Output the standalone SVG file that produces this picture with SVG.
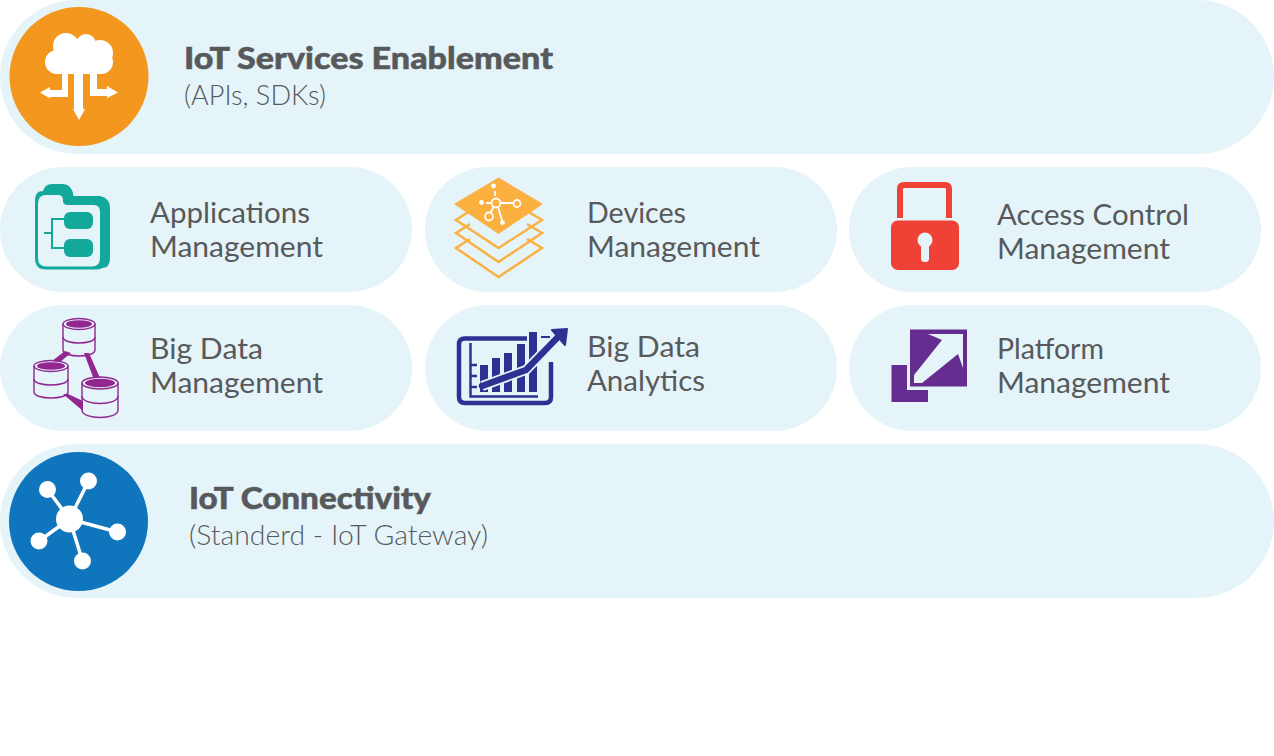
<svg xmlns="http://www.w3.org/2000/svg" width="1274" height="756" viewBox="0 0 1274 756">
<style>
.pill{fill:#e4f4f9}
text{font-family:"Lato","Liberation Sans",sans-serif;fill:#58595b}
.t{font-size:29px}
.h{font-size:31px;font-weight:900;stroke:#58595b;stroke-width:.5}
.s{font-size:27px;font-weight:300}
.w{fill:#fff;stroke:none}
.wl{stroke:#fff;fill:none}
.db{fill:none;stroke:#92278f;stroke-width:1.4}
</style>
<rect width="1274" height="756" fill="#fff"/>
<g id="connectors"></g>
<g id="iot-services">
<rect class="pill" x="0" y="0" width="1274" height="154" rx="77"/>
<circle cx="79" cy="76.500" r="69.500" fill="#f4971f"/>
<g class="w">
<circle cx="66" cy="46" r="13"/><circle cx="86" cy="44" r="10"/><circle cx="100" cy="53" r="13"/><circle cx="57" cy="62" r="12"/><circle cx="101" cy="62" r="12"/>
<rect x="56" y="42" width="46" height="32"/>
<path d="M74 74H83V109H85L79 120L73 109H74Z"/>
<path d="M62 74H68V97H50V98.500L40 92.500L50 87V90H62Z"/>
<path d="M90 74H97V89H107V86L118 92.500L107 98V96H90Z"/>
</g>
<text class="h" x="184" y="69" textLength="369" lengthAdjust="spacingAndGlyphs">IoT Services Enablement</text>
<text class="s" x="184" y="105" textLength="142" lengthAdjust="spacingAndGlyphs">(APIs, SDKs)</text>
</g>
<g id="applications-management">
<rect class="pill" x="0" y="167" width="412" height="125" rx="62.500"/>
<path d="M35 200Q35 191 43 191Q45 184 52 184H62Q72 184 73.500 196H100Q110 198 110 208V258Q110 268 102 268Q101 269.500 92 269.500H46Q35 269.500 35 258Z" fill="#12a89a"/>
<path d="M38 204Q38 195 46 195H58Q63 195 63 200V201Q63 205 68 205H94Q100 205 100 212V258Q100 266.500 92 266.500H46Q38 266.500 38 258Z" fill="#e4f4f9"/>
<rect x="64" y="212" width="29" height="17" rx="6" fill="#12a89a"/>
<rect x="64" y="239" width="29" height="18" rx="6" fill="#12a89a"/>
<path d="M64 219H52V248H64M44 233H52" fill="none" stroke="#12a89a" stroke-width="2"/>
<text class="t" x="150" y="223" textLength="160" lengthAdjust="spacingAndGlyphs">Applications</text>
<text class="t" x="150" y="257" textLength="173" lengthAdjust="spacingAndGlyphs">Management</text>
</g>
<g id="devices-management">
<rect class="pill" x="425" y="167" width="412" height="125" rx="62.500"/>
<g fill="none" stroke="#fbb040" stroke-width="2.500">
<path d="M470 211L456 220L498.500 248L542 220L527 211"/>
<path d="M470 224L456 233L498.500 262L542 233L527 224"/>
<path d="M470 239L456 248L498.500 277L542 248L527 239"/>
</g>
<path d="M498.500 177.500L543 204L498.500 234L454 204Z" fill="#fbb040"/>
<g stroke="#fff" fill="none" stroke-width="1.800">
<circle cx="496" cy="203" r="4.500"/><circle cx="517" cy="203.500" r="3.500"/><circle cx="489" cy="216.500" r="4"/>
<path d="M500.500 203H513.500M493.500 207L490.500 213M498 207L502 220M491.500 203H486M495 196V191"/>
</g>
<circle cx="493.500" cy="186" r="2.400" class="w"/><circle cx="481.500" cy="202.500" r="2.400" class="w"/><circle cx="502.500" cy="222.500" r="2.400" class="w"/>
<text class="t" x="587" y="223" textLength="99" lengthAdjust="spacingAndGlyphs">Devices</text>
<text class="t" x="587" y="257" textLength="173" lengthAdjust="spacingAndGlyphs">Management</text>
</g>
<g id="access-control-management">
<rect class="pill" x="849" y="167" width="412" height="125" rx="62.500"/>
<path d="M900 218V189Q900 185 904 185H945Q949 185 949 189V218" fill="none" stroke="#f04136" stroke-width="6"/>
<rect x="891" y="220.500" width="68" height="49.500" rx="7" fill="#f04136"/>
<circle cx="925" cy="240" r="7.500" fill="#e4f4f9"/>
<rect x="921" y="240" width="8" height="22" rx="3.500" fill="#e4f4f9"/>
<text class="t" x="997" y="225" textLength="192" lengthAdjust="spacingAndGlyphs">Access Control</text>
<text class="t" x="997" y="259" textLength="173" lengthAdjust="spacingAndGlyphs">Management</text>
</g>
<g id="big-data-management">
<rect class="pill" x="0" y="305" width="412" height="126" rx="63"/>
<path d="M65 351L71 353L60 362L52 361ZM84 353L89 353L100 378L93 377ZM63 394L68 394L83 401V411Z" fill="#92278f"/>
<path class="db" d="M63 324V350C63 358 95 358 95 350V324" fill="#e4f4f9"/><ellipse cx="79" cy="324" rx="16" ry="5.500" class="db"/><ellipse cx="79" cy="324" rx="13" ry="3.800" fill="#92278f"/><path class="db" d="M63 337C63 345 95 345 95 337"/>
<path class="db" d="M34 366V392C34 400 68 400 68 392V366"/><ellipse cx="51" cy="366" rx="17" ry="5.500" class="db"/><ellipse cx="51" cy="366" rx="14" ry="3.800" fill="#92278f"/><path class="db" d="M34 379C34 387 68 387 68 379"/>
<path class="db" d="M82 383V410C82 420 118 420 118 410V383"/><ellipse cx="100" cy="383" rx="18" ry="6" class="db"/><ellipse cx="100" cy="383" rx="15" ry="4.200" fill="#92278f"/><path class="db" d="M82 396C82 406 118 406 118 396"/>
<text class="t" x="150" y="359" textLength="113" lengthAdjust="spacingAndGlyphs">Big Data</text>
<text class="t" x="150" y="393" textLength="173" lengthAdjust="spacingAndGlyphs">Management</text>
</g>
<g id="big-data-analytics">
<rect class="pill" x="425" y="305" width="412" height="126" rx="63"/>
<path d="M527 338.500H465Q459 338.500 459 344V397Q459 403 465 403H545Q551 403 551 397V362" fill="none" stroke="#2e3192" stroke-width="4.500"/>
<path d="M470.500 343V396.500H538M471 365H477M471 376H477M471 387H477" fill="none" stroke="#2e3192" stroke-width="2.500"/>
<g fill="#2e3192">
<rect x="480" y="365" width="8" height="27"/><rect x="492" y="358" width="8" height="34"/><rect x="504" y="353" width="8" height="39"/><rect x="517" y="344" width="8" height="48"/><rect x="529" y="332" width="8" height="60"/>
</g>
<path d="M482 386L526 370L558 337" fill="none" stroke="#e4f4f9" stroke-width="10"/>
<path d="M482 386L526 370L558 337" fill="none" stroke="#2e3192" stroke-width="6.500" stroke-linecap="round"/>
<path d="M552 330L567 329L565 345Z" fill="#2e3192" stroke="#2e3192" stroke-width="2" stroke-linejoin="round"/>
<path d="M541 337H550" stroke="#2e3192" stroke-width="2"/>
<text class="t" x="587" y="357" textLength="113" lengthAdjust="spacingAndGlyphs">Big Data</text>
<text class="t" x="587" y="391" textLength="118" lengthAdjust="spacingAndGlyphs">Analytics</text>
</g>
<g id="platform-management">
<rect class="pill" x="849" y="305" width="412" height="126" rx="63"/>
<path d="M891.500 365H907V390H928V402H891.500Z" fill="#662d91"/>
<rect x="910" y="329.500" width="57" height="57" fill="#662d91"/>
<path d="M928 334H963V368L958 354L922 383H914V375L942 340Z" fill="#e4f4f9"/>
<text class="t" x="997" y="359" textLength="107" lengthAdjust="spacingAndGlyphs">Platform</text>
<text class="t" x="997" y="393" textLength="173" lengthAdjust="spacingAndGlyphs">Management</text>
</g>
<g id="iot-connectivity">
<rect class="pill" x="0" y="444" width="1274" height="154" rx="77"/>
<circle cx="78.500" cy="521.500" r="69.500" fill="#0f75bc"/>
<g class="wl" stroke-width="3.500">
<path d="M69.500 519L47.500 489.500M69.500 519L88.500 481M69.500 519L117.500 532M69.500 519L39 541M69.500 519L82.500 561"/>
</g>
<g class="w">
<circle cx="69.500" cy="519" r="13.500"/><circle cx="47.500" cy="489.500" r="8.500"/><circle cx="88.500" cy="481" r="8.500"/><circle cx="117.500" cy="532" r="8.500"/><circle cx="39" cy="541" r="8.500"/><circle cx="82.500" cy="561" r="8.500"/>
</g>
<text class="h" x="189" y="509" textLength="242" lengthAdjust="spacingAndGlyphs">IoT Connectivity</text>
<text class="s" x="189" y="545" textLength="299" lengthAdjust="spacingAndGlyphs">(Standerd - IoT Gateway)</text>
</g>
</svg>
